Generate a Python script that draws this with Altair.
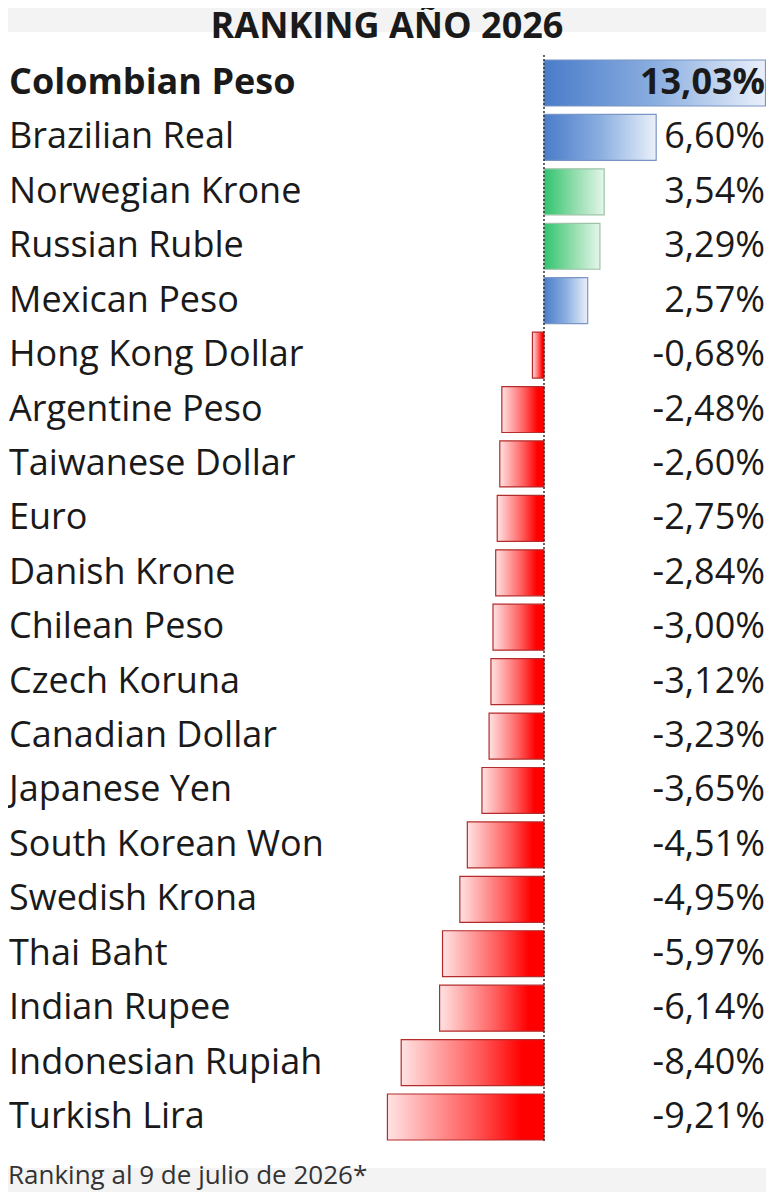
import altair as alt
import pandas as pd

# Datos
monedas = [
    "Colombian Peso", "Brazilian Real", "Norwegian Krone", "Russian Ruble",
    "Mexican Peso", "Hong Kong Dollar", "Argentine Peso", "Taiwanese Dollar",
    "Euro", "Danish Krone", "Chilean Peso", "Czech Koruna", "Canadian Dollar",
    "Japanese Yen", "South Korean Won", "Swedish Krona", "Thai Baht",
    "Indian Rupee", "Indonesian Rupiah", "Turkish Lira",
]
variacion = [
    13.03, 6.60, 3.54, 3.29, 2.57, -0.68, -2.48, -2.60, -2.75, -2.84,
    -3.00, -3.12, -3.23, -3.65, -4.51, -4.95, -5.97, -6.14, -8.40, -9.21,
]
grupo = [
    "azul", "azul", "verde", "verde", "azul", "rojo", "rojo", "rojo", "rojo", "rojo",
    "rojo", "rojo", "rojo", "rojo", "rojo", "rojo", "rojo", "rojo", "rojo", "rojo",
]
titulo = "RANKING AÑO 2026"
nota = "Ranking al 9 de julio de 2026*"

df = pd.DataFrame({"moneda": monedas, "variacion": variacion, "grupo": grupo})
df["etiqueta"] = [f"{v:.2f}%".replace(".", ",") for v in variacion]
df["destacado"] = [i == 0 for i in range(len(df))]

ANCHO, ALTO = 758, 1184
FUENTE = "Open Sans"
TEXTO = "#1a1a1a"
GRIS = "#f3f3f3"

x_scale = alt.Scale(domain=[-31.53, 13.06], nice=False, zero=False)
y_scale = alt.Scale(range=[47.8, 1136.2], paddingInner=0.155, paddingOuter=0.0775)


def degradado(stops):
    return alt.Gradient(
        gradient="linear",
        stops=[alt.GradientStop(color=c, offset=o) for o, c in stops],
        x1=0, x2=1, y1=0, y2=0,
    )


colores = {
    "azul": (degradado([(0, "#4a7cc9"), (0.5, "#8aaee0"), (1, "#eaf0fa")]), "#7a96c4"),
    "verde": (degradado([(0, "#2fc46e"), (0.5, "#8fdcaa"), (1, "#e4f6ea")]), "#9cc4a8"),
    "rojo": (degradado([(0, "#ffe3e3"), (0.55, "#ff5a5a"), (0.85, "#ff0000"), (1, "#ff0000")]), "#b52a2a"),
}

# franjas grises de cabecera y pie
uno = pd.DataFrame({"k": [0]})
franja_sup = alt.Chart(uno).mark_rect(color=GRIS).encode(
    x=alt.value(0), x2=alt.value(ANCHO), y=alt.value(0), y2=alt.value(24)
)
franja_inf = alt.Chart(uno).mark_rect(color=GRIS).encode(
    x=alt.value(0), x2=alt.value(ANCHO), y=alt.value(1160), y2=alt.value(ALTO)
)

base = alt.Chart(df).encode(
    y=alt.Y("moneda:N", sort=monedas, axis=None, scale=y_scale),
)

capas = [franja_sup, franja_inf]
for g, (relleno, borde) in colores.items():
    capas.append(
        base.transform_filter(alt.datum.grupo == g)
        .mark_bar(fill=relleno, stroke=borde, strokeWidth=1.2)
        .encode(x=alt.X("variacion:Q", axis=None, scale=x_scale))
    )

cero = alt.Chart(pd.DataFrame({"cero": [0]})).mark_rule(
    color="#333333", strokeDash=[2, 2], strokeWidth=1.5
).encode(
    x=alt.X("cero:Q", axis=None, scale=x_scale),
    y=alt.value(47),
    y2=alt.value(1134),
)

for destacado, peso in [(False, "normal"), (True, "bold")]:
    filtrado = base.transform_filter(alt.datum.destacado == destacado)
    capas.append(
        filtrado.mark_text(
            align="left", baseline="middle", font=FUENTE, fontSize=36,
            fontWeight=peso, color=TEXTO,
        ).encode(x=alt.value(1), text="moneda:N")
    )
    capas.append(
        filtrado.mark_text(
            align="right", baseline="middle", font=FUENTE, fontSize=36,
            fontWeight=peso, color=TEXTO,
        ).encode(x=alt.value(757), text="etiqueta:N")
    )

cabecera = alt.Chart(pd.DataFrame({"t": [titulo]})).mark_text(
    align="center", baseline="alphabetic", font=FUENTE, fontSize=36,
    fontWeight="bold", color=TEXTO,
).encode(x=alt.value(379), y=alt.value(30), text="t:N")

pie = alt.Chart(pd.DataFrame({"t": [nota]})).mark_text(
    align="left", baseline="alphabetic", font=FUENTE, fontSize=26, color="#333333",
).encode(x=alt.value(0), y=alt.value(1176), text="t:N")

chart = (
    alt.layer(*capas, cero, cabecera, pie)
    .properties(
        width=ANCHO,
        height=ALTO,
        autosize=alt.AutoSizeParams(type="none"),
        padding=0,
        background="white",
    )
    .configure_view(stroke=None)
)

chart.save("out.html", embed_options={"renderer": "svg", "actions": False})
